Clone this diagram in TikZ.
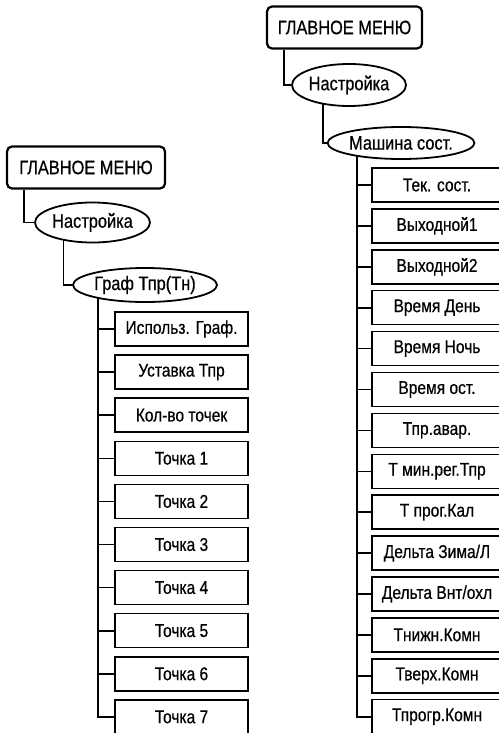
\documentclass[tikz,border=0pt]{standalone}
\usepackage{fontspec}
\setmainfont{Liberation Sans}[FakeStretch=0.84, FakeBold=0.5]
\usetikzlibrary{shapes.geometric,backgrounds}

\begin{document}
\begin{tikzpicture}[x=1pt, y=-1pt,
    menubox/.style={draw, line width=2.2pt, rounded corners=5pt, fill=white, inner sep=0pt,
                    minimum height=42pt, font=\fontsize{19.5}{21}\selectfont},
    submenu/.style={draw, ellipse, line width=1.8pt, fill=white, inner sep=0pt,
                    font=\fontsize{19.5}{21}\selectfont},
    param/.style={draw, line width=1.5pt, fill=white, inner sep=0pt,
                  minimum height=34pt, font=\fontsize{18.5}{20}\selectfont},
    link/.style={line width=1.6pt}
  ]
    \useasboundingbox (0,0) rectangle (498,733);

    % left branch: Граф Тпр(Тн)
    \node[menubox, minimum width=158pt] (menuL) at (86,167.5) {ГЛАВНОЕ МЕНЮ};
    \node[submenu, minimum width=115pt, minimum height=40pt] (setupL) at (92.5,222.5) {Настройка};
    \node[submenu, minimum width=144pt, minimum height=34pt] (graph) at (145,285) {Граф Тпр(Тн)};
    \foreach \name [count=\i] in {Использ. Граф., Уставка Тпр, Кол-во точек, Точка 1, Точка 2,
                                  Точка 3, Точка 4, Точка 5, Точка 6, Точка 7}
      \node[param, minimum width=133pt] (pt\i) at (181.5,{329+43.1*(\i-1)}) {\name};

    % right branch: Машина сост.
    \node[menubox, minimum width=155pt] (menuR) at (344.5,27.5) {ГЛАВНОЕ МЕНЮ};
    \node[submenu, minimum width=112pt, minimum height=42pt] (setupR) at (349,85) {Настройка};
    \node[submenu, minimum width=138pt, minimum height=32pt] (state) at (401,143) {Машина сост.};
    \foreach \name [count=\i] in {Тек. сост., Выходной1, Выходной2, Время День, Время Ночь,
                                  Время ост., Тпр.авар., Т мин.рег.Тпр, Т прог.Кал, Дельта Зима/Л,
                                  Дельта Внт/охл, Тнижн.Комн, Тверх.Комн, Тпрогр.Комн}
      \node[param, minimum width=130pt] (st\i) at (437,{185+40.9*(\i-1)}) {\name};

    \begin{scope}[on background layer]
      \draw[link] ([xshift=18pt]menuL.south west) |- (setupL.west);
      \draw[link] ([xshift=-29pt]setupL.center) |- (graph.west);
      \coordinate (trunkL) at ([xshift=-47pt]graph.center);
      \draw[link] (trunkL) |- (pt10.west);
      \foreach \i in {1,...,9}
        \draw[link] (trunkL |- pt\i.west) -- (pt\i.west);

      \draw[link] ([xshift=18pt]menuR.south west) |- (setupR.west);
      \draw[link] ([xshift=-26pt]setupR.center) |- (state.west);
      \coordinate (trunkR) at ([xshift=-44pt]state.center);
      \draw[link] (trunkR) |- (st14.west);
      \foreach \i in {1,...,13}
        \draw[link] (trunkR |- st\i.west) -- (st\i.west);
    \end{scope}
  \end{tikzpicture}
\end{document}
